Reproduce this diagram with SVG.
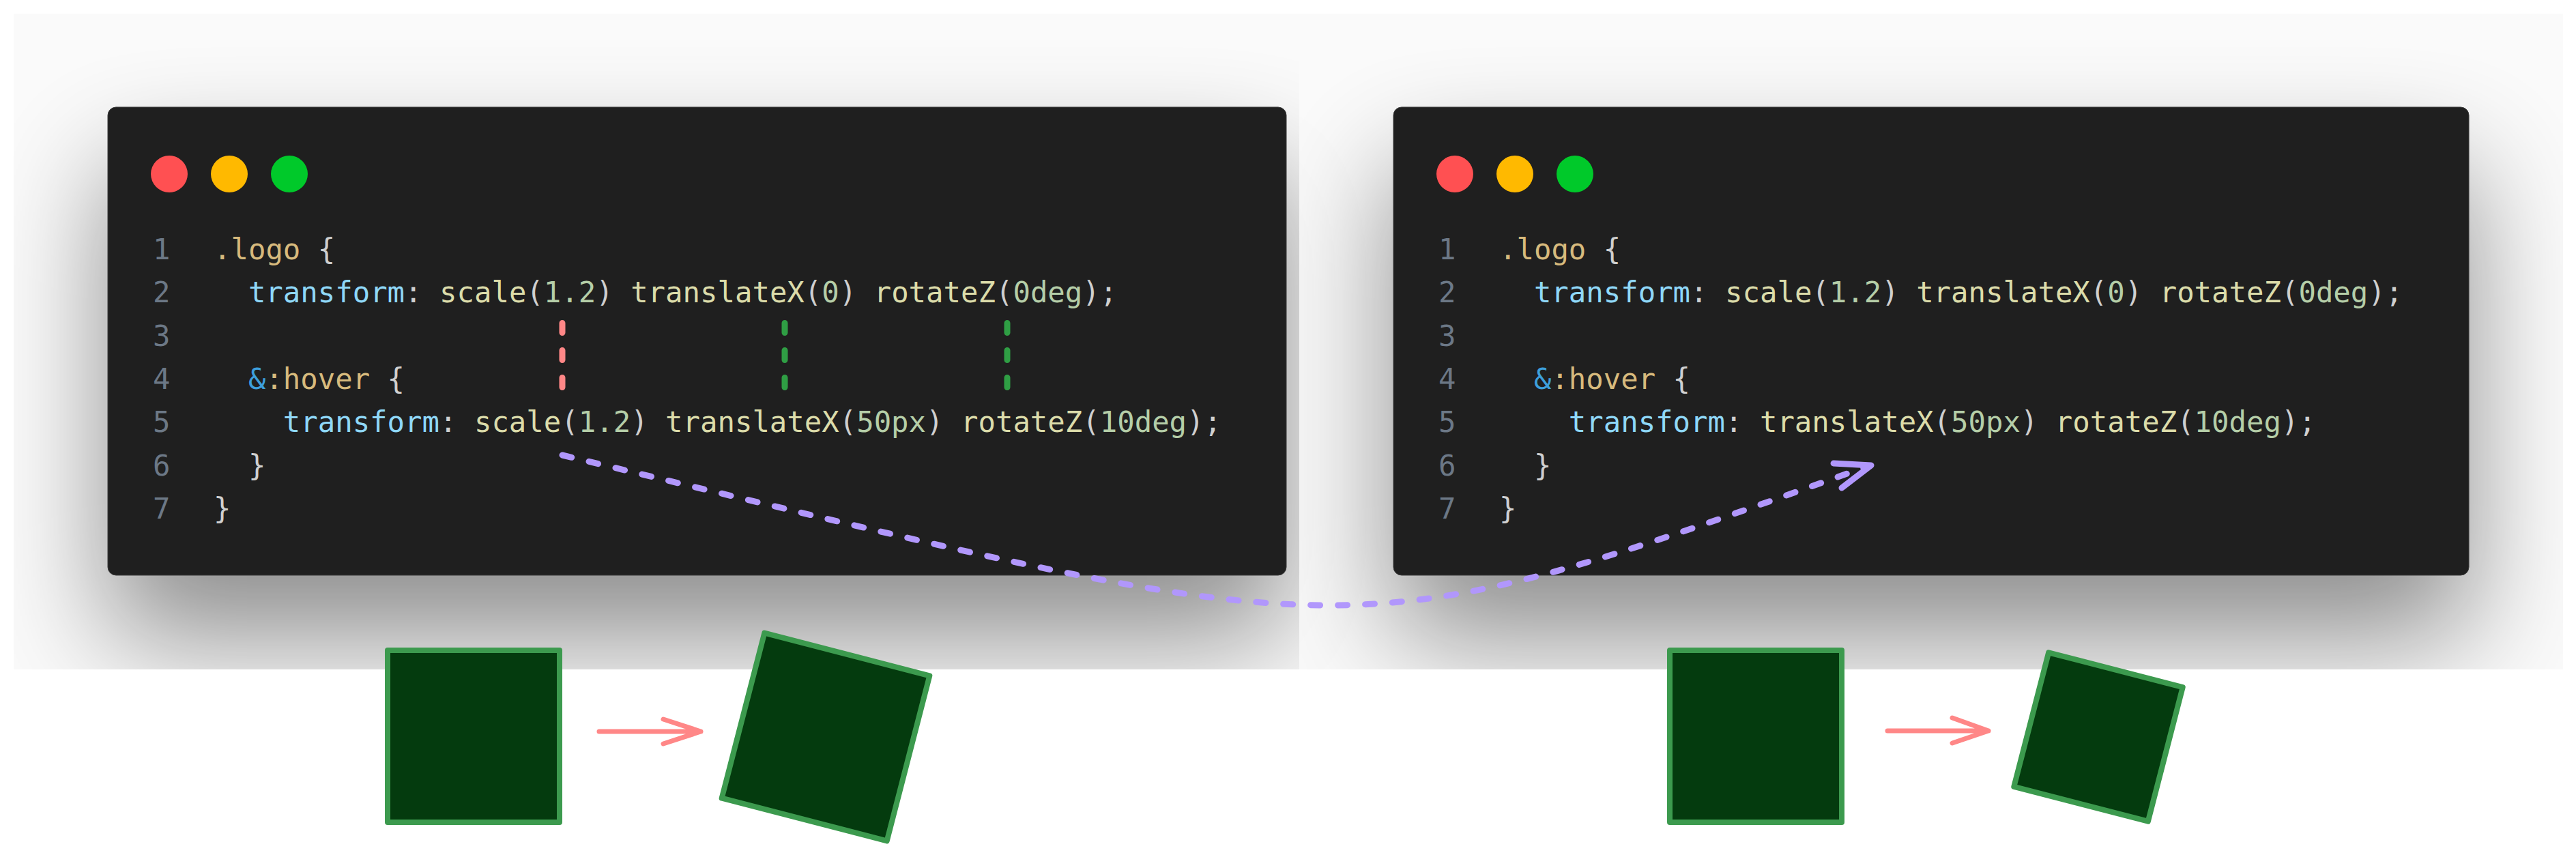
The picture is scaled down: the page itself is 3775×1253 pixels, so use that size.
<svg xmlns="http://www.w3.org/2000/svg" width="3775" height="1253" viewBox="0 0 3775 1253">
<defs>
<style>
.code{font-family:"DejaVu Sans Mono","Liberation Mono",monospace;font-size:42.3px;white-space:pre}
.ln{fill:#6c7886}
.p{fill:#8fd8f8}
.f{fill:#dcdcaa}
.n{fill:#b5cea8}
.g{fill:#cfcfcf}
.s{fill:#d7ba7d}
.a{fill:#3d9fdc}
.win{fill:#1f1f1f;stroke:#3c3c3c;stroke-width:1}
.sq{fill:#043b0e;stroke:#3c9a4e;stroke-width:8;stroke-linejoin:round}
.guide{fill:none;stroke-width:9;stroke-linecap:round;stroke-dasharray:14 26}
.red{stroke:#ff8787}
.grn{stroke:#2f9e44}
.arrow{fill:none;stroke:#ff8787;stroke-width:7;stroke-linecap:round;stroke-linejoin:round}
.purple{fill:none;stroke:#b197fc;stroke-width:9;stroke-linecap:round;stroke-linejoin:round}
</style>
<filter id="blur" filterUnits="userSpaceOnUse" x="-500" y="-500" width="5000" height="2500">
<feGaussianBlur stdDeviation="85"/>
</filter>
<clipPath id="clipL"><rect x="20" y="20" width="2003" height="961"/></clipPath>
<clipPath id="clipR"><rect x="1904" y="20" width="1852" height="961"/></clipPath>
</defs>
<rect x="0" y="0" width="3775" height="1253" fill="#ffffff"/>

<g id="panel-left" clip-path="url(#clipL)">
<rect x="20" y="20" width="2003" height="961" fill="#fafafa"/>
<rect x="158" y="247" width="1727" height="686" rx="12" fill="#000" opacity="0.44" filter="url(#blur)"/>
</g>
<g id="panel-right" clip-path="url(#clipR)">
<rect x="1904" y="20" width="1852" height="961" fill="#fafafa" opacity="0.93"/>
<rect x="2042" y="247" width="1576" height="686" rx="12" fill="#000" opacity="0.44" filter="url(#blur)"/>
</g>

<g id="window-left">
<rect class="win" x="158" y="157" width="1727" height="686" rx="12"/>
<circle cx="248" cy="255" r="27" fill="#ff5052"/>
<circle cx="336" cy="255" r="27" fill="#ffb900"/>
<circle cx="424" cy="255" r="27" fill="#00c92a"/>
<g class="code">
<text class="ln" x="224" y="380">1</text>
<text class="ln" x="224" y="443.3">2</text>
<text class="ln" x="224" y="506.7">3</text>
<text class="ln" x="224" y="570">4</text>
<text class="ln" x="224" y="633.3">5</text>
<text class="ln" x="224" y="696.7">6</text>
<text class="ln" x="224" y="760">7</text>
<text x="313" y="380"><tspan class="s">.logo</tspan><tspan class="g"> {</tspan></text>
<text x="363.9" y="443.3"><tspan class="p">transform</tspan><tspan class="g">: </tspan><tspan class="f">scale</tspan><tspan class="g">(</tspan><tspan class="n">1.2</tspan><tspan class="g">) </tspan><tspan class="f">translateX</tspan><tspan class="g">(</tspan><tspan class="n">0</tspan><tspan class="g">) </tspan><tspan class="f">rotateZ</tspan><tspan class="g">(</tspan><tspan class="n">0deg</tspan><tspan class="g">);</tspan></text>
<text x="363.9" y="570"><tspan class="a">&amp;</tspan><tspan class="s">:hover</tspan><tspan class="g"> {</tspan></text>
<text x="414.8" y="633.3"><tspan class="p">transform</tspan><tspan class="g">: </tspan><tspan class="f">scale</tspan><tspan class="g">(</tspan><tspan class="n">1.2</tspan><tspan class="g">) </tspan><tspan class="f">translateX</tspan><tspan class="g">(</tspan><tspan class="n">50px</tspan><tspan class="g">) </tspan><tspan class="f">rotateZ</tspan><tspan class="g">(</tspan><tspan class="n">10deg</tspan><tspan class="g">);</tspan></text>
<text class="g" x="363.9" y="696.7">}</text>
<text class="g" x="313" y="760">}</text>
</g>
</g>

<g id="window-right">
<rect class="win" x="2042" y="157" width="1576" height="686" rx="12"/>
<circle cx="2132" cy="255" r="27" fill="#ff5052"/>
<circle cx="2220" cy="255" r="27" fill="#ffb900"/>
<circle cx="2308" cy="255" r="27" fill="#00c92a"/>
<g class="code">
<text class="ln" x="2108" y="380">1</text>
<text class="ln" x="2108" y="443.3">2</text>
<text class="ln" x="2108" y="506.7">3</text>
<text class="ln" x="2108" y="570">4</text>
<text class="ln" x="2108" y="633.3">5</text>
<text class="ln" x="2108" y="696.7">6</text>
<text class="ln" x="2108" y="760">7</text>
<text x="2197" y="380"><tspan class="s">.logo</tspan><tspan class="g"> {</tspan></text>
<text x="2247.9" y="443.3"><tspan class="p">transform</tspan><tspan class="g">: </tspan><tspan class="f">scale</tspan><tspan class="g">(</tspan><tspan class="n">1.2</tspan><tspan class="g">) </tspan><tspan class="f">translateX</tspan><tspan class="g">(</tspan><tspan class="n">0</tspan><tspan class="g">) </tspan><tspan class="f">rotateZ</tspan><tspan class="g">(</tspan><tspan class="n">0deg</tspan><tspan class="g">);</tspan></text>
<text x="2247.9" y="570"><tspan class="a">&amp;</tspan><tspan class="s">:hover</tspan><tspan class="g"> {</tspan></text>
<text x="2298.8" y="633.3"><tspan class="p">transform</tspan><tspan class="g">: </tspan><tspan class="f">translateX</tspan><tspan class="g">(</tspan><tspan class="n">50px</tspan><tspan class="g">) </tspan><tspan class="f">rotateZ</tspan><tspan class="g">(</tspan><tspan class="n">10deg</tspan><tspan class="g">);</tspan></text>
<text class="g" x="2247.9" y="696.7">}</text>
<text class="g" x="2197" y="760">}</text>
</g>
</g>

<g id="square-left-before"><rect class="sq" x="568" y="953" width="252" height="252"/></g>
<g id="square-left-after"><rect class="sq" x="-125" y="-125" width="250" height="250" transform="translate(1210 1080) rotate(14.5)"/></g>
<g id="square-right-before"><rect class="sq" x="2447" y="953" width="252" height="252"/></g>
<g id="square-right-after"><rect class="sq" x="-101.5" y="-101.5" width="203" height="203" transform="translate(3075 1080) rotate(14.5)"/></g>

<g id="connectors">
<path class="guide red" d="M824 473.5V568"/>
<path class="guide grn" d="M1150 473.5V568"/>
<path class="guide grn" d="M1476 473.5V568"/>
<path class="arrow" d="M878 1072H1027M972 1054L1027 1072L972 1090"/>
<path class="arrow" d="M2766 1071H2914M2861 1052L2914 1071L2861 1089"/>
<path class="purple" d="M824 667C2004 950 1950 965 2738 683" stroke-dasharray="14 26"/>
<path class="purple" d="M2687 679L2742 682L2699 715"/>
</g>
</svg>
